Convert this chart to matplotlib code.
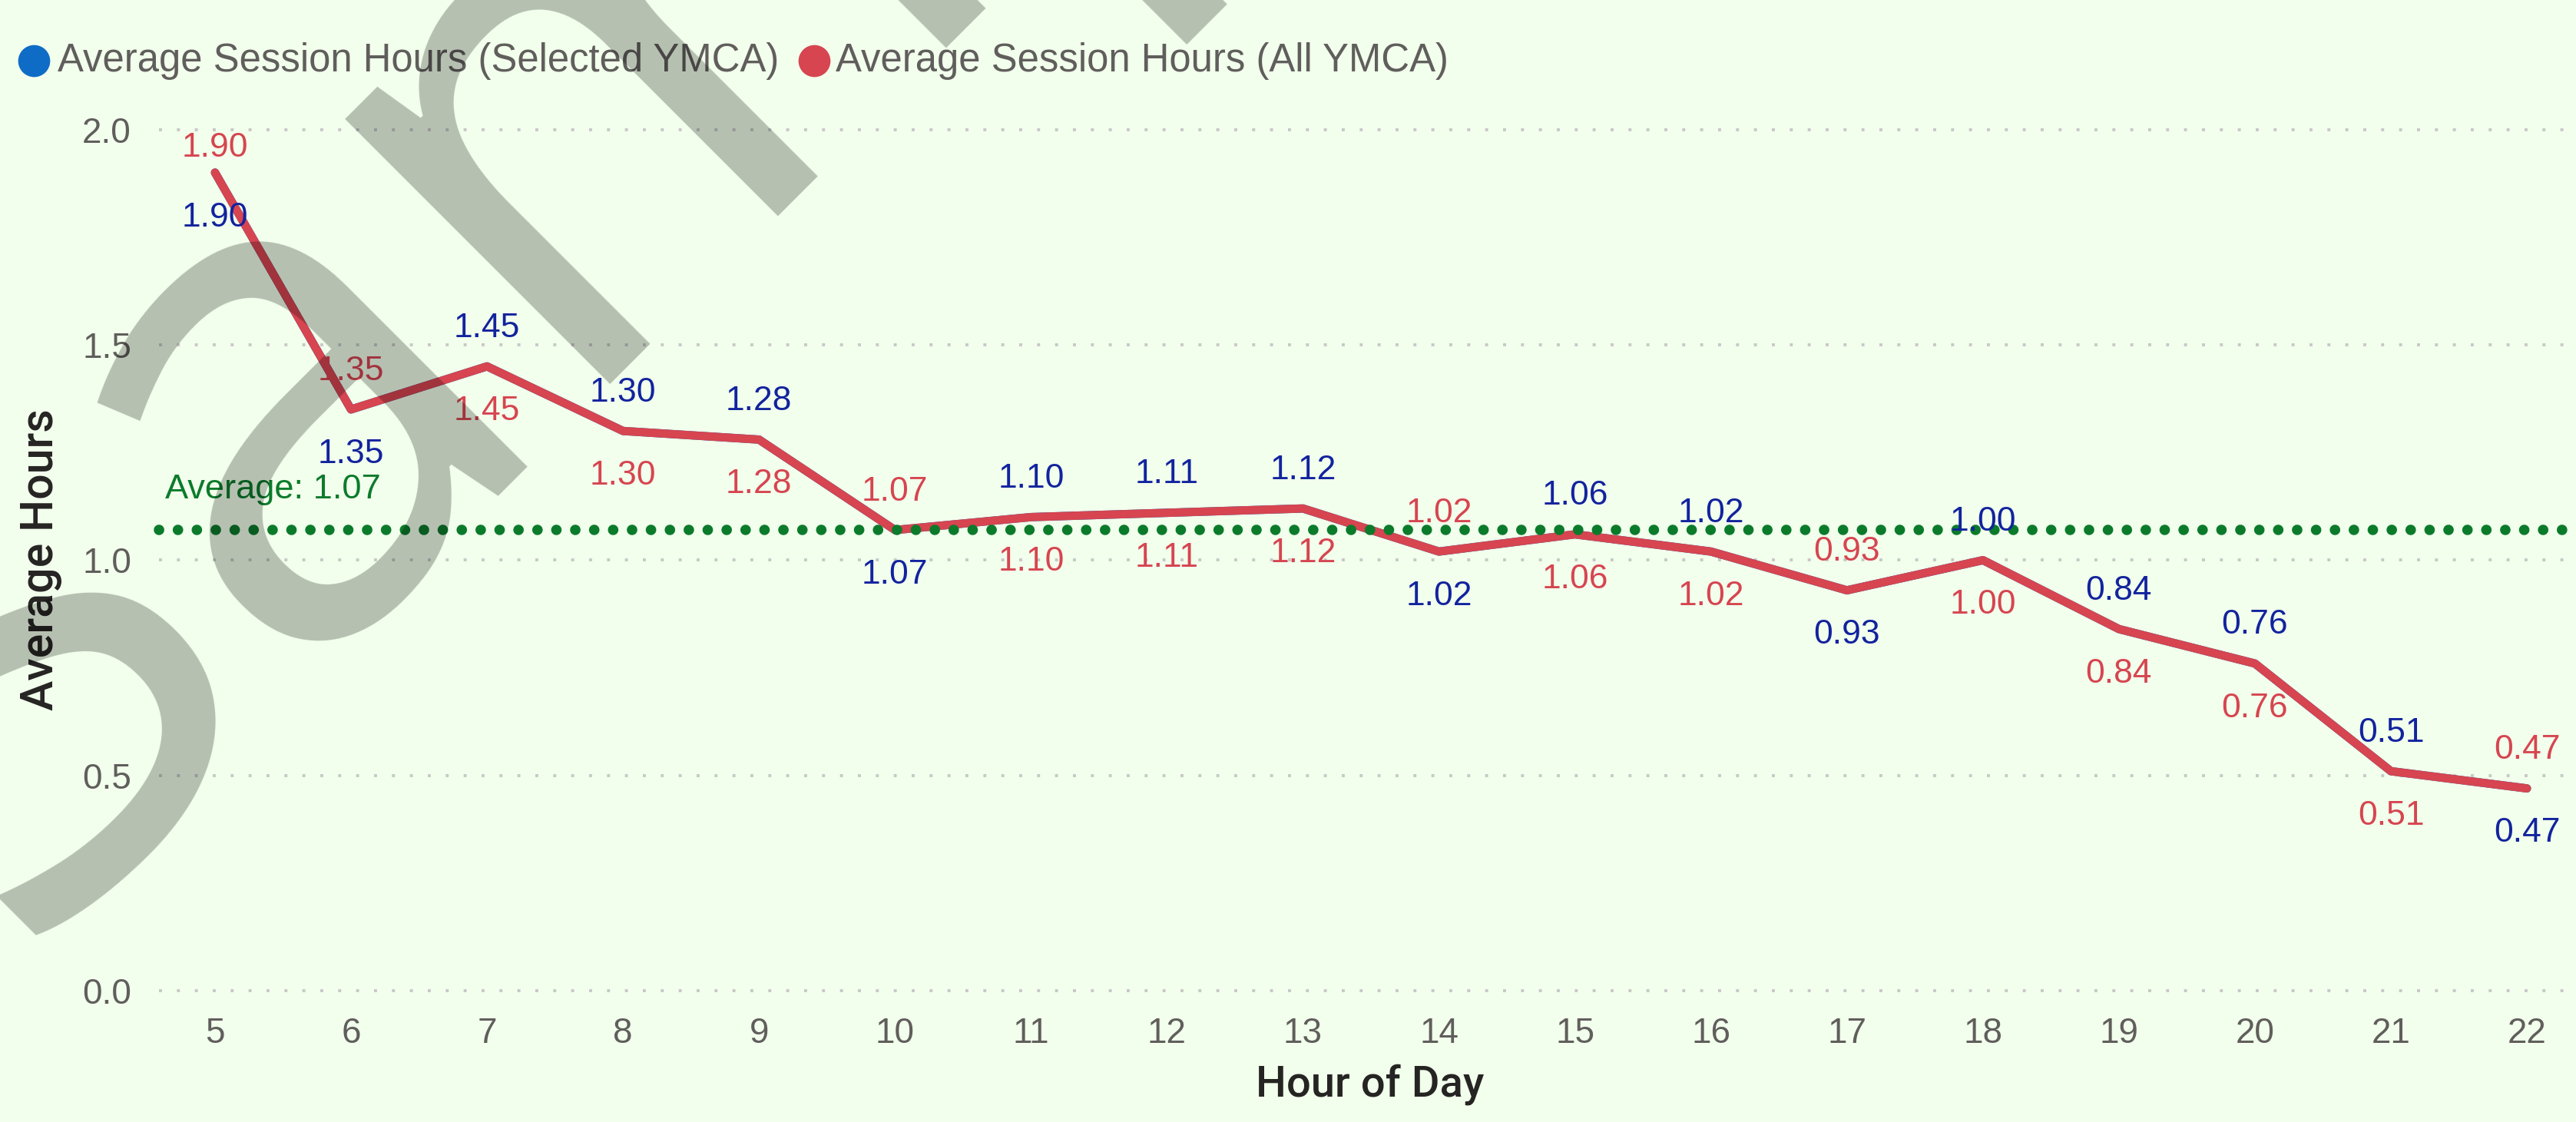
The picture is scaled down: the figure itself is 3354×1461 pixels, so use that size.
import matplotlib
matplotlib.use('Agg')
import matplotlib.pyplot as plt
from matplotlib.lines import Line2D

hours = [5, 6, 7, 8, 9, 10, 11, 12, 13, 14, 15, 16, 17, 18, 19, 20, 21, 22]
selected_ymca = [1.90, 1.35, 1.45, 1.30, 1.28, 1.07, 1.10, 1.11, 1.12, 1.02, 1.06, 1.02, 0.93, 1.00, 0.84, 0.76, 0.51, 0.47]
all_ymca = [1.90, 1.35, 1.45, 1.30, 1.28, 1.07, 1.10, 1.11, 1.12, 1.02, 1.06, 1.02, 0.93, 1.00, 0.84, 0.76, 0.51, 0.47]
average_value = 1.07
# where the blue (selected) label sits; the red one goes on the other side
blue_above = [False, False, True, True, True, False, True, True, True, False, True, True, False, True, True, True, True, False]
series_names = ['Average Session Hours (Selected YMCA)', 'Average Session Hours (All YMCA)']
y_ticks = [0, 0.5, 1.0, 1.5, 2.0]

bg = '#F2FFEC'
red = '#D64550'
blue_dot = '#0F6CC6'
blue_txt = '#12239E'
green = '#0B7B2B'
tick_col = '#605E5C'
title_col = '#252423'

W, H = 3354, 1461
fig = plt.figure(figsize=(W / 200, H / 200), dpi=200, facecolor=bg)

top_px, bot_px = 135, 1307
ax = fig.add_axes([207 / W, (H - bot_px) / H, (3345 - 207) / W, (bot_px - top_px) / H])
ax.set_facecolor(bg)
ax.set_xlim(4.588, 22.31)
ax.set_ylim(-0.03, 2.06)
for s in ax.spines.values():
    s.set_visible(False)

ax.set_yticks(y_ticks)
ax.set_yticklabels([f'{t:.1f}' for t in y_ticks])
ax.set_xticks(hours)
ax.set_xticklabels([str(h) for h in hours])
ax.tick_params(length=0, colors=tick_col, labelsize=16.5)
ax.tick_params(axis='y', pad=13)
ax.tick_params(axis='x', pad=6)
for lab in ax.get_xticklabels() + ax.get_yticklabels():
    lab.set_family('Liberation Sans')
ax.grid(axis='y', color='#C8C8C8', linewidth=1.4, linestyle=(0, (1, 5)))
ax.grid(axis='x', visible=False)
ax.set_axisbelow(True)

ax.plot(hours, selected_ymca, color=blue_dot, lw=3.9, solid_capstyle='round', solid_joinstyle='round', zorder=3)
ax.plot(hours, all_ymca, color=red, lw=3.9, solid_capstyle='round', solid_joinstyle='round', zorder=4)

ax.axhline(average_value, color=green, lw=4.9, linestyle=(0, (0.01, 1.8)),
           dash_capstyle='round', zorder=5, clip_on=False)
ax.annotate(f'Average: {average_value:.2f}', (4.588, average_value), xytext=(3, 19),
            textcoords='offset points', ha='left', va='center', color=green,
            fontsize=16.3, family='Liberation Sans')

for h, b, r, up in zip(hours, selected_ymca, all_ymca, blue_above):
    # labels near the top of the plot get pushed down a little
    off_up = 11.5 if max(b, r) > 1.8 else 18
    off_dn = 21
    ax.annotate(f'{b:.2f}', (h, b), xytext=(0, off_up if up else -off_dn), textcoords='offset points',
                ha='center', va='center', color=blue_txt, fontsize=16,
                family='Liberation Sans', zorder=6)
    ax.annotate(f'{r:.2f}', (h, r), xytext=(0, -off_dn if up else off_up), textcoords='offset points',
                ha='center', va='center', color=red, fontsize=16,
                family='Liberation Sans', zorder=6)

# axis titles
fig.text(1784 / W, (H - 1412) / H, 'Hour of Day', ha='center', va='center',
         fontsize=20.2, color=title_col, family='Roboto', fontweight='medium')
fig.text(53 / W, (H - 729) / H, 'Average Hours', ha='center', va='center', rotation=90,
         fontsize=21.3, color=title_col, family='Roboto', fontweight='medium')

# legend
ly = (H - 79) / H
fig.add_artist(Line2D([44 / W], [ly], marker='o', markersize=14, color=blue_dot, transform=fig.transFigure))
fig.text(75 / W, ly, series_names[0], ha='left', va='center', fontsize=18.3, color=tick_col, family='Liberation Sans')
fig.add_artist(Line2D([1060 / W], [ly], marker='o', markersize=14, color=red, transform=fig.transFigure))
fig.text(1088 / W, ly, series_names[1], ha='left', va='center', fontsize=18.3, color=tick_col, family='Liberation Sans')

# watermark
fig.text(15 / W, (H - 1232) / H, 'Sample', rotation=45, rotation_mode='anchor',
         ha='left', va='baseline', fontsize=328, color='black', alpha=0.25,
         family='Open Sans', zorder=10)

fig.savefig('out.png', dpi=200, facecolor=bg)
